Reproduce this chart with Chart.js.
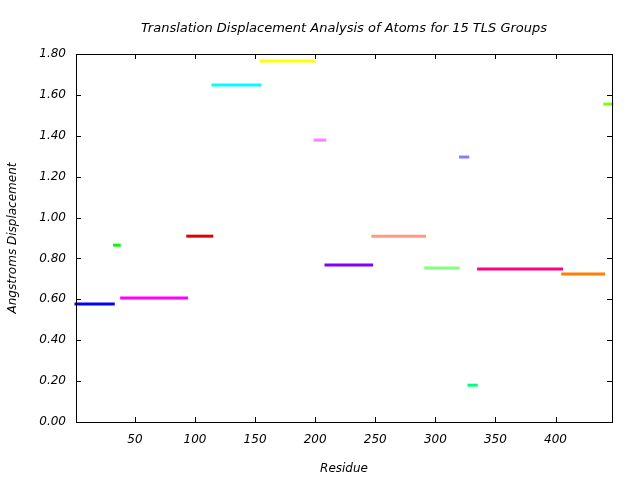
<!DOCTYPE html>
<html>
<head>
<meta charset="UTF-8">
<title>TLS Groups</title>
<style>
  body { margin: 0; background: #fff; }
  #wrap { width: 640px; height: 480px; }
</style>
<script src="https://cdn.jsdelivr.net/npm/chart.js"></script>
</head>
<body>
<div id="wrap"><canvas id="c" width="640" height="480"></canvas></div>
<script>
// residue ranges of each TLS group and its displacement
const groupStart = [1, 33, 39, 94, 115, 155, 200, 209, 248, 292, 321, 328, 336, 406, 441];
const groupEnd   = [32, 37, 93, 114, 154, 199, 208, 247, 291, 319, 327, 334, 405, 440, 447];
const displacement = [0.577, 0.865, 0.606, 0.909, 1.648, 1.766, 1.379, 0.768, 0.909, 0.753, 1.296, 0.180, 0.748, 0.724, 1.555];
const groupColors = ['#0000ff', '#00ff00', '#ff00ff', '#dd0000', '#00ffff', '#ffff00', '#ff80ff', '#8000ff',
                     '#ff9980', '#80ff80', '#8080ff', '#00ff80', '#ff0080', '#ff8000', '#80ff00'];
const xTicks = [50, 100, 150, 200, 250, 300, 350, 400];
const yTicks = [0, 0.2, 0.4, 0.6, 0.8, 1.0, 1.2, 1.4, 1.6, 1.8];

const font = { family: 'DejaVu Sans', size: 12, style: 'italic', weight: 'normal' };

const datasets = groupStart.map((s, i) => ({
    label: 'Group ' + (i + 1),
    data: [{ x: s, y: displacement[i] }, { x: groupEnd[i], y: displacement[i] }],
    borderColor: groupColors[i],
    borderWidth: 3,
    borderCapStyle: 'square',
    pointRadius: 0,
    clip: false
}));

// gnuplot style frame with inward ticks on all four sides
const frame = {
    id: 'frame',
    afterDraw(chart) {
        const { ctx, chartArea: a, scales } = chart;
        ctx.save();
        ctx.strokeStyle = '#000';
        ctx.lineWidth = 1;
        ctx.strokeRect(Math.round(a.left) + 0.5, Math.round(a.top) + 0.5,
                       Math.round(a.right - a.left), Math.round(a.bottom - a.top));
        ctx.beginPath();
        xTicks.forEach(v => {
            const px = Math.round(scales.x.getPixelForValue(v)) + 0.5;
            ctx.moveTo(px, a.bottom); ctx.lineTo(px, a.bottom - 5);
            ctx.moveTo(px, a.top); ctx.lineTo(px, a.top + 5);
        });
        yTicks.forEach(v => {
            const py = Math.round(scales.y.getPixelForValue(v)) + 0.5;
            ctx.moveTo(a.left, py); ctx.lineTo(a.left + 5, py);
            ctx.moveTo(a.right, py); ctx.lineTo(a.right - 5, py);
        });
        ctx.stroke();
        ctx.restore();
    }
};

new Chart(document.getElementById('c'), {
    type: 'line',
    data: { datasets },
    plugins: [frame],
    options: {
        responsive: false,
        animation: false,
        layout: { padding: { right: 28 } },
        plugins: {
            legend: { display: false },
            tooltip: { enabled: false }
        },
        scales: {
            x: {
                type: 'linear',
                min: 1,
                max: 447,
                afterBuildTicks: s => { s.ticks = xTicks.map(v => ({ value: v })); },
                afterFit: s => { s.height = 58; },
                grid: { display: false, drawTicks: false },
                border: { display: false },
                ticks: { color: '#000', font: font, padding: 11, maxRotation: 0 },
                title: { display: true, text: 'Residue', color: '#000', font: font, padding: { top: 2, bottom: 4 } }
            },
            // top axis only carries the chart title, so it is centred over the plot
            x2: {
                type: 'linear',
                position: 'top',
                min: 1,
                max: 447,
                afterFit: s => { s.height = 54; },
                grid: { display: false, drawTicks: false },
                border: { display: false },
                ticks: { display: false },
                title: {
                    display: true,
                    text: 'Translation Displacement Analysis of Atoms for 15 TLS Groups',
                    color: '#000',
                    font: { family: 'DejaVu Sans', size: 13, style: 'italic', weight: 'normal' },
                    padding: { top: 21, bottom: 0 }
                }
            },
            y: {
                min: 0,
                max: 1.8,
                afterBuildTicks: s => { s.ticks = yTicks.map(v => ({ value: v })); },
                afterFit: s => { s.width = 76; },
                grid: { display: false, drawTicks: false },
                border: { display: false },
                ticks: { color: '#000', font: font, padding: 10, callback: v => v.toFixed(2) },
                title: { display: true, text: 'Angstroms Displacement', color: '#000', font: font, padding: { top: 6, bottom: 0 } }
            }
        }
    }
});
</script>
</body>
</html>
